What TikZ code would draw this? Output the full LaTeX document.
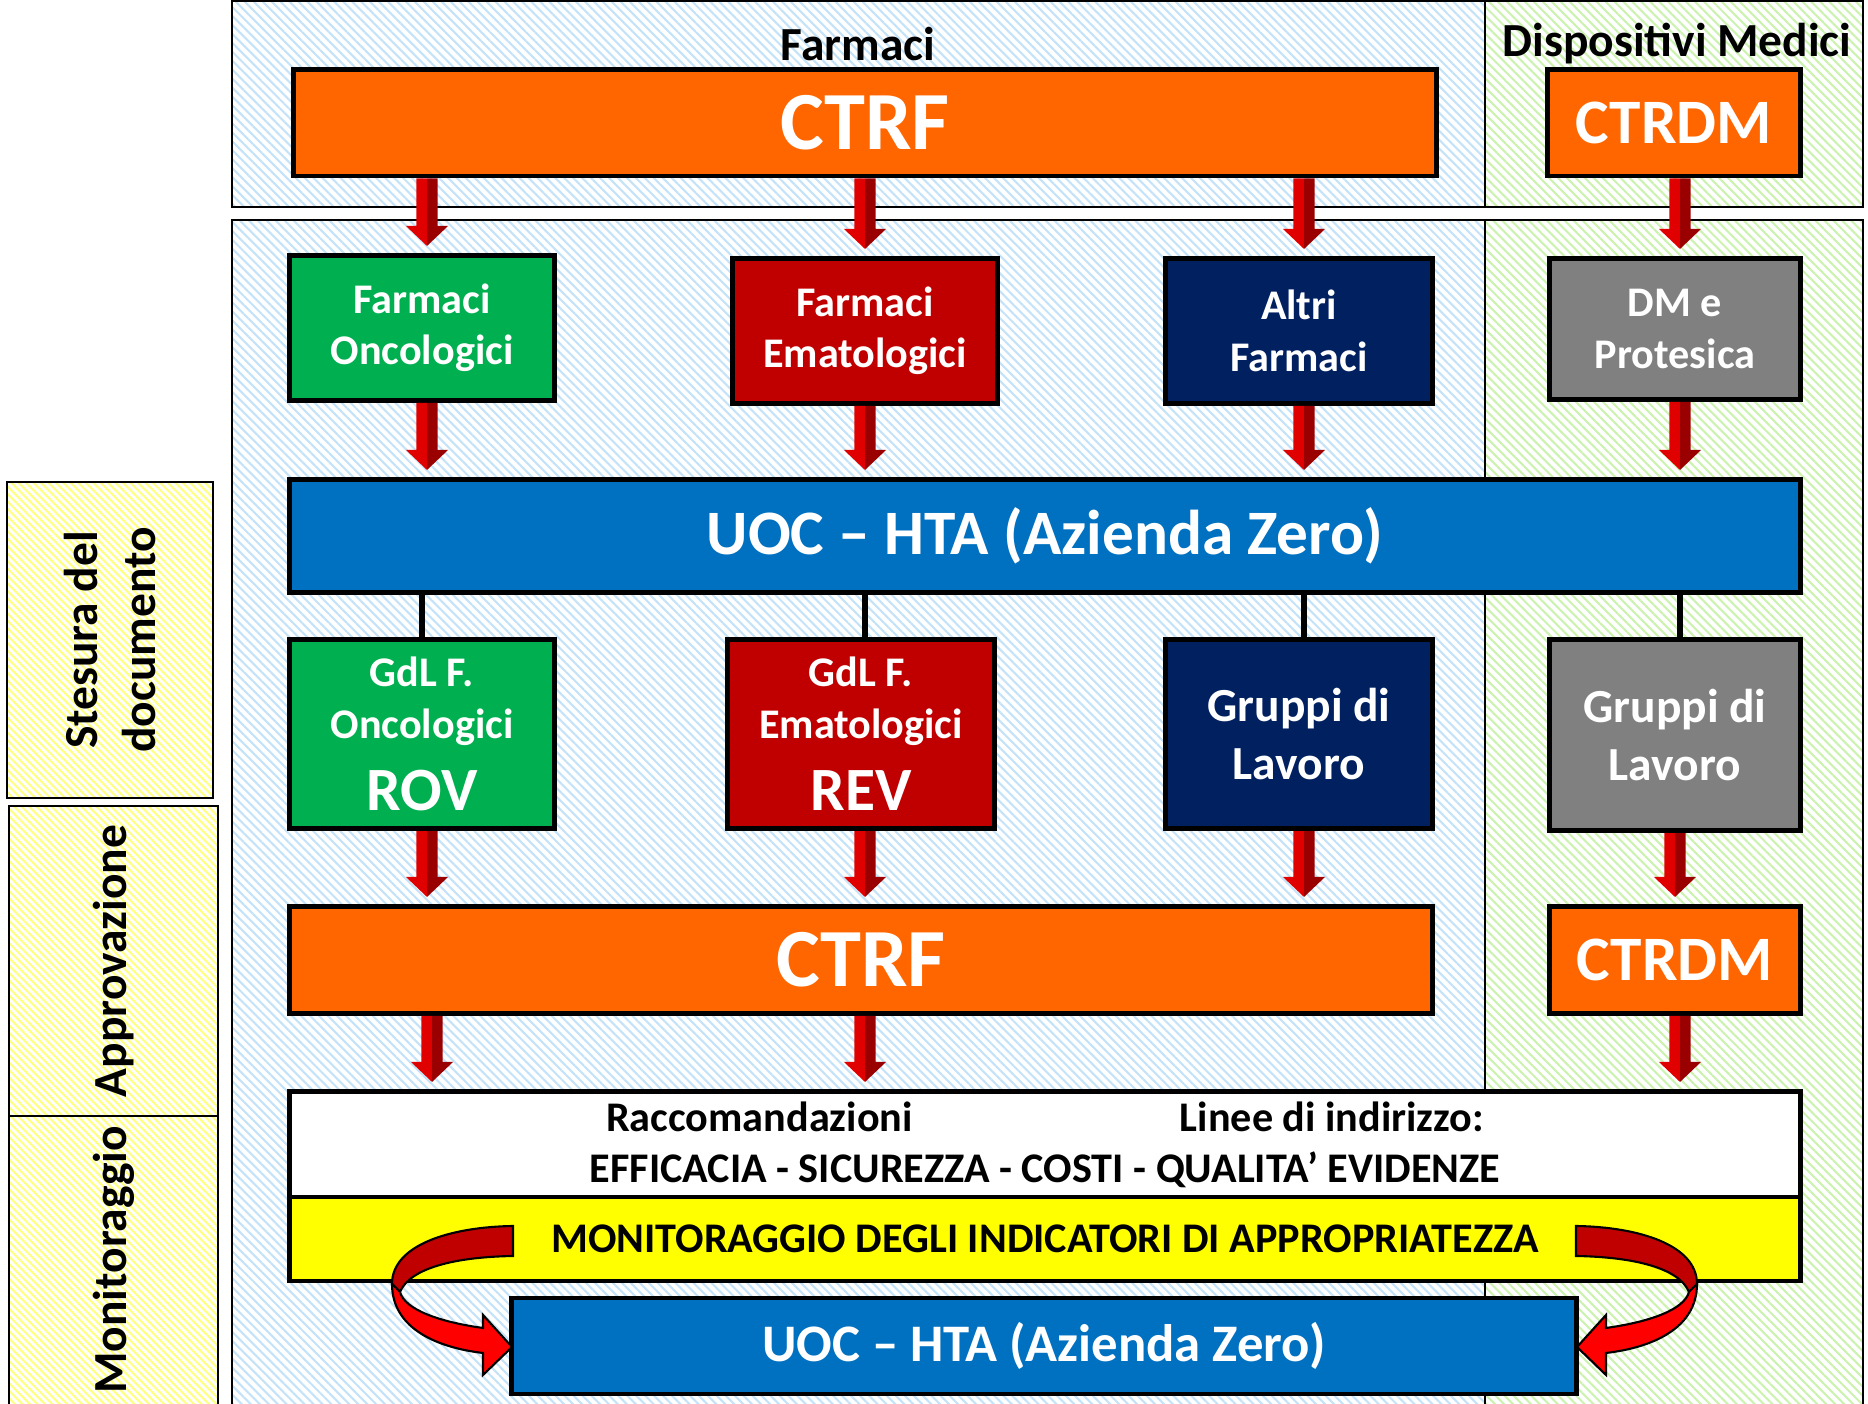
\documentclass[tikz,border=0pt]{standalone}
\usepackage{fontspec}
\setmainfont{Carlito}
\usepackage{tikz}
\usetikzlibrary{calc,patterns.meta}

\definecolor{ctrforange}{HTML}{FF6600}
\definecolor{oncogreen}{HTML}{00B050}
\definecolor{ematored}{HTML}{C00000}
\definecolor{altrinavy}{HTML}{002060}
\definecolor{dmgray}{HTML}{808080}
\definecolor{uocblue}{HTML}{0070C0}
\definecolor{monyellow}{HTML}{FFFF00}
\definecolor{hatchblue}{HTML}{C4E2F8}
\definecolor{hatchgreen}{HTML}{CCF2B0}
\definecolor{hatchyellow}{HTML}{FFFF80}
\definecolor{arrowlight}{HTML}{E00000}
\definecolor{arrowdark}{HTML}{9A0000}
\definecolor{bendback}{HTML}{C00000}
\definecolor{bendfront}{HTML}{FF0000}

\tikzset{
	panel/.style     = {draw, line width=0.6pt},
	farmpanel/.style = {panel, pattern={Lines[angle=-45,distance=1.8pt,line width=0.6pt]}, pattern color=hatchblue},
	dmpanel/.style   = {panel, pattern={Lines[angle=-45,distance=1.8pt,line width=0.6pt]}, pattern color=hatchgreen},
	phasebox/.style  = {panel, pattern={Lines[angle=-45,distance=1.5pt,line width=0.6pt]}, pattern color=hatchyellow},
	block/.style     = {draw, line width=1.4pt, align=center, inner sep=0pt, text=white},
	link/.style      = {line width=1.8pt},
	txtT/.style      = {font=\bfseries\fontsize{13.5}{16.5}\selectfont},
	txtB/.style      = {font=\bfseries\fontsize{12}{14.6}\selectfont},
	txtG/.style      = {font=\bfseries\fontsize{13.5}{16.3}\selectfont},
	txtCTRF/.style   = {font=\bfseries\fontsize{23.5}{28}\selectfont},
	txtCTRDM/.style  = {font=\bfseries\fontsize{18}{22}\selectfont},
	txtUOC/.style    = {font=\bfseries\fontsize{18}{22}\selectfont},
	pics/bendarrow/.style = {code={
		\draw[fill=bendback, line width=0.6pt]
			(513,1226) .. controls (450,1227) and (392,1245) .. (392,1284)
			-- (400,1292) .. controls (410,1268) and (455,1257) .. (513,1256) -- cycle;
		\draw[fill=bendfront, line width=0.6pt]
			(392,1284) .. controls (392,1330) and (440,1348) .. (483,1353)
			-- (483,1375) -- (512,1347) -- (483,1315) -- (483,1328)
			.. controls (440,1322) and (405,1310) .. (400,1292) -- cycle;
	}},
}

% block arrow: x of #2, from y of #1 down to y of #2
\newcommand{\flowarrow}[2]{%
	\fill[arrowlight] let \p1=(#1), \p2=(#2) in
		(\x2-3pt,\y1) -- (\x2,\y1) -- (\x2,\y2+2pt) -- (\x2-6pt,\y2+7.7pt) -- (\x2-3pt,\y2+7.7pt) -- cycle;
	\fill[arrowdark] let \p1=(#1), \p2=(#2) in
		(\x2+3pt,\y1) -- (\x2,\y1) -- (\x2,\y2+2pt) -- (\x2+6pt,\y2+7.7pt) -- (\x2+3pt,\y2+7.7pt) -- cycle;
}

\begin{document}
\begin{tikzpicture}[x=0.01cm, y=-0.01cm]
	\useasboundingbox (0,0) rectangle (1868,1404);
	\clip (0,0) rectangle (1868,1404);

	%-- Panels --%
	\draw[farmpanel] (232,1) rectangle (1485,207);
	\draw[dmpanel]   (1485,1) rectangle (1863,207);
	\draw[farmpanel] (232,220) rectangle (1485,1420);
	\draw[dmpanel]   (1485,220) rectangle (1863,1420);
	\draw[phasebox]  (7,482) rectangle (213,798);
	\draw[phasebox]  (9,806) rectangle (218,1116);
	\draw[phasebox]  (9,1116) rectangle (218,1420);

	%-- Blocks creation --%
	\draw
		% TOP %
		node(farmTitle) at (858,44) [txtT] {Farmaci}
		node(dmTitle) at (1677,44) [txtT] {Dispositivi Medici}
		node(ctrfTop) at (865,123) [block, fill=ctrforange, minimum width=11.42cm, minimum height=1.06cm, txtCTRF] {CTRF}
		node(ctrdmTop) at (1674,123) [block, fill=ctrforange, minimum width=2.52cm, minimum height=1.06cm, txtCTRDM] {CTRDM}
	;
	\draw
		% FIRST ROW %
		node(farmOnco) at (422,328) [block, fill=oncogreen, minimum width=2.65cm, minimum height=1.45cm, txtB] {Farmaci\\Oncologici}
		node(farmEmato) at (865,331) [block, fill=ematored, minimum width=2.65cm, minimum height=1.45cm, txtB] {Farmaci\\Ematologici}
		node(altriFarm) at (1299,331) [block, fill=altrinavy, minimum width=2.66cm, minimum height=1.45cm, txtB] {Altri\\Farmaci}
		node(dmProt) at (1675,329) [block, fill=dmgray, minimum width=2.5cm, minimum height=1.41cm, txtB] {DM e\\Protesica}

		node(uocTop) at (1045,536) [block, fill=uocblue, minimum width=15.1cm, minimum height=1.13cm, txtUOC] {UOC -- HTA (Azienda Zero)}
	;
	\draw
		% WORKING GROUPS %
		node(gdlOnco) at (422,734) [block, fill=oncogreen, minimum width=2.65cm, minimum height=1.89cm, txtB] {GdL F.\\Oncologici\\[6pt]{\fontsize{17.5}{21}\selectfont ROV}}
		node(gdlEmato) at (861,734) [block, fill=ematored, minimum width=2.67cm, minimum height=1.89cm, txtB] {GdL F.\\Ematologici\\[6pt]{\fontsize{17.5}{21}\selectfont REV}}
		node(gruppiFarm) at (1299,734) [block, fill=altrinavy, minimum width=2.66cm, minimum height=1.89cm, txtG] {Gruppi di\\Lavoro}
		node(gruppiDM) at (1675,735) [block, fill=dmgray, minimum width=2.5cm, minimum height=1.91cm, txtG] {Gruppi di\\Lavoro}

		node(ctrfMid) at (861,960) [block, fill=ctrforange, minimum width=11.42cm, minimum height=1.07cm, txtCTRF] {CTRF}
		node(ctrdmMid) at (1675,960) [block, fill=ctrforange, minimum width=2.5cm, minimum height=1.07cm, txtCTRDM] {CTRDM}
	;
	\draw
		% OUTCOME AND MONITORING %
		node(racc) at (1045,1145) [block, fill=white, text=black, minimum width=15.1cm, minimum height=1.07cm, txtB] {Raccomandazioni\hspace{76pt}Linee di indirizzo:\\EFFICACIA - SICUREZZA - COSTI - QUALITA’ EVIDENZE}
		node(monit) at (1045,1239) [block, fill=monyellow, text=black, minimum width=15.1cm, minimum height=0.84cm, txtB] {MONITORAGGIO DEGLI INDICATORI DI APPROPRIATEZZA}
		node(uocBot) at (1044,1346) [block, fill=uocblue, minimum width=10.64cm, minimum height=0.96cm, font=\bfseries\fontsize{15}{18}\selectfont] {UOC -- HTA (Azienda Zero)}
	;
	\draw
		% PHASES %
		node(stesura) at (110,640) [txtT, rotate=90, align=center] {Stesura del\\documento}
		node(approv) at (114,961) [txtT, rotate=90] {Approvazione}
		node(monitLbl) at (114,1260) [txtT, rotate=90] {Monitoraggio}
	;

	%-- Block linking --%
	% CTRF / CTRDM TO FIRST ROW %
	\flowarrow{ctrfTop.south}{$(farmOnco.north)+(5,0)$}
	\flowarrow{ctrfTop.south}{farmEmato.north}
	\flowarrow{ctrfTop.south}{$(altriFarm.north)+(5,0)$}
	\flowarrow{ctrdmTop.south}{$(dmProt.north)+(5,0)$}

	% FIRST ROW TO UOC %
	\flowarrow{farmOnco.south}{$(uocTop.north -| farmOnco)+(5,0)$}
	\flowarrow{farmEmato.south}{uocTop.north -| farmEmato}
	\flowarrow{altriFarm.south}{$(uocTop.north -| altriFarm)+(5,0)$}
	\flowarrow{dmProt.south}{$(uocTop.north -| dmProt)+(5,0)$}

	% UOC TO WORKING GROUPS %
	\draw[link] (uocTop.south -| gdlOnco) -- (gdlOnco.north);
	\draw[link] (uocTop.south -| farmEmato) -- (gdlEmato.north -| farmEmato);
	\draw[link] ($(uocTop.south -| gruppiFarm)+(5,0)$) -- ($(gruppiFarm.north)+(5,0)$);
	\draw[link] ($(uocTop.south -| gruppiDM)+(5,0)$) -- ($(gruppiDM.north)+(5,0)$);

	% WORKING GROUPS TO APPROVAL %
	\flowarrow{gdlOnco.south}{$(ctrfMid.north -| gdlOnco)+(5,0)$}
	\flowarrow{gdlEmato.south}{ctrfMid.north -| farmEmato}
	\flowarrow{gruppiFarm.south}{$(ctrfMid.north -| gruppiFarm)+(5,0)$}
	\flowarrow{gruppiDM.south}{ctrdmMid.north}

	% APPROVAL TO RECOMMENDATIONS %
	\flowarrow{ctrfMid.south}{$(racc.north -| gdlOnco)+(10,0)$}
	\flowarrow{ctrfMid.south}{racc.north -| farmEmato}
	\flowarrow{ctrdmMid.south}{$(racc.north -| ctrdmMid)+(5,0)$}

	% MONITORING LOOP %
	\pic at (0,0) {bendarrow};
	\pic[xscale=-1] at (2089,0) {bendarrow};

\end{tikzpicture}
\end{document}
